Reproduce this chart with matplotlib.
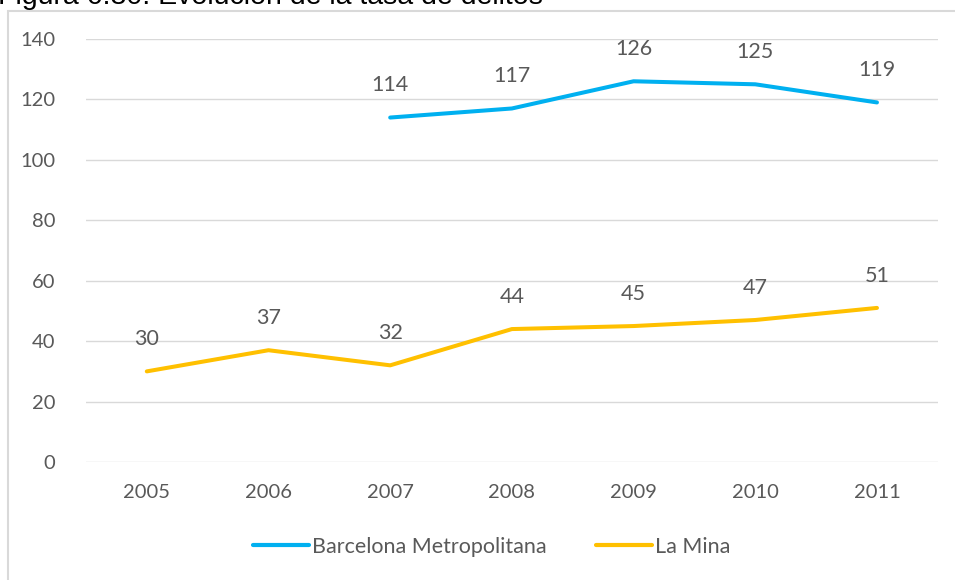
import matplotlib.pyplot as plt
import numpy as np
from matplotlib.patches import Rectangle

years = ["2005", "2006", "2007", "2008", "2009", "2010", "2011"]
barcelona = [np.nan, np.nan, 114, 117, 126, 125, 119]
la_mina = [30, 37, 32, 44, 45, 47, 51]
y_ticks = [0, 20, 40, 60, 80, 100, 120, 140]

blue = "#00b0f0"
gold = "#ffc000"
grey_text = "#595959"
grid_col = "#d9d9d9"

plt.rcParams['font.family'] = ['Lato', 'DejaVu Sans']

fig = plt.figure(figsize=(9.55, 5.8), dpi=100)
ax = fig.add_axes([0.090, 0.2034, 0.892, 0.7294])

x = np.arange(len(years))
ax.plot(x, barcelona, color=blue, lw=2.9, solid_capstyle='round',
        label="Barcelona Metropolitana", zorder=3)
ax.plot(x, la_mina, color=gold, lw=2.9, solid_capstyle='round',
        label="La Mina", zorder=3)

# value labels above each point
for series in (barcelona, la_mina):
    for xi, v in zip(x, series):
        if np.isnan(v):
            continue
        ax.annotate(f"{v:.0f}", (xi, v), xytext=(0, 16), textcoords='offset points',
                    ha='center', va='bottom', fontsize=15.5, color=grey_text)

ax.set_xlim(-0.5, len(years) - 0.5)
ax.set_ylim(0, 140)
ax.set_xticks(x)
ax.set_xticklabels(years)
ax.set_yticks(y_ticks)
ax.tick_params(length=0, labelsize=14.5, colors=grey_text)
ax.tick_params(axis='y', pad=22)
ax.tick_params(axis='x', pad=16)
ax.grid(axis='y', color=grid_col, lw=1)
ax.set_axisbelow(True)
for s in ax.spines.values():
    s.set_visible(False)

leg = fig.legend(loc='center', bbox_to_anchor=(0.515, 0.057), ncol=2, frameon=False,
                 fontsize=15.5, handlelength=2.6, handletextpad=0.15, columnspacing=2.3)
for line in leg.get_lines():
    line.set_linewidth(3)
for t in leg.get_texts():
    t.set_color(grey_text)

# chart frame, running off the right and bottom edges
fig.patches.append(Rectangle((8 / 955, -0.1), 1.2, 1.1 - 11 / 580, transform=fig.transFigure,
                             fill=False, edgecolor=grid_col, lw=1.5))

fig.text(-0.002, 1 - 4 / 580, "Figura 6.30. Evolución de la tasa de delitos",
         family=['Liberation Sans', 'DejaVu Sans'], fontsize=20.5,
         va='baseline', ha='left', color='black')

fig.savefig("out.png", dpi=100)
